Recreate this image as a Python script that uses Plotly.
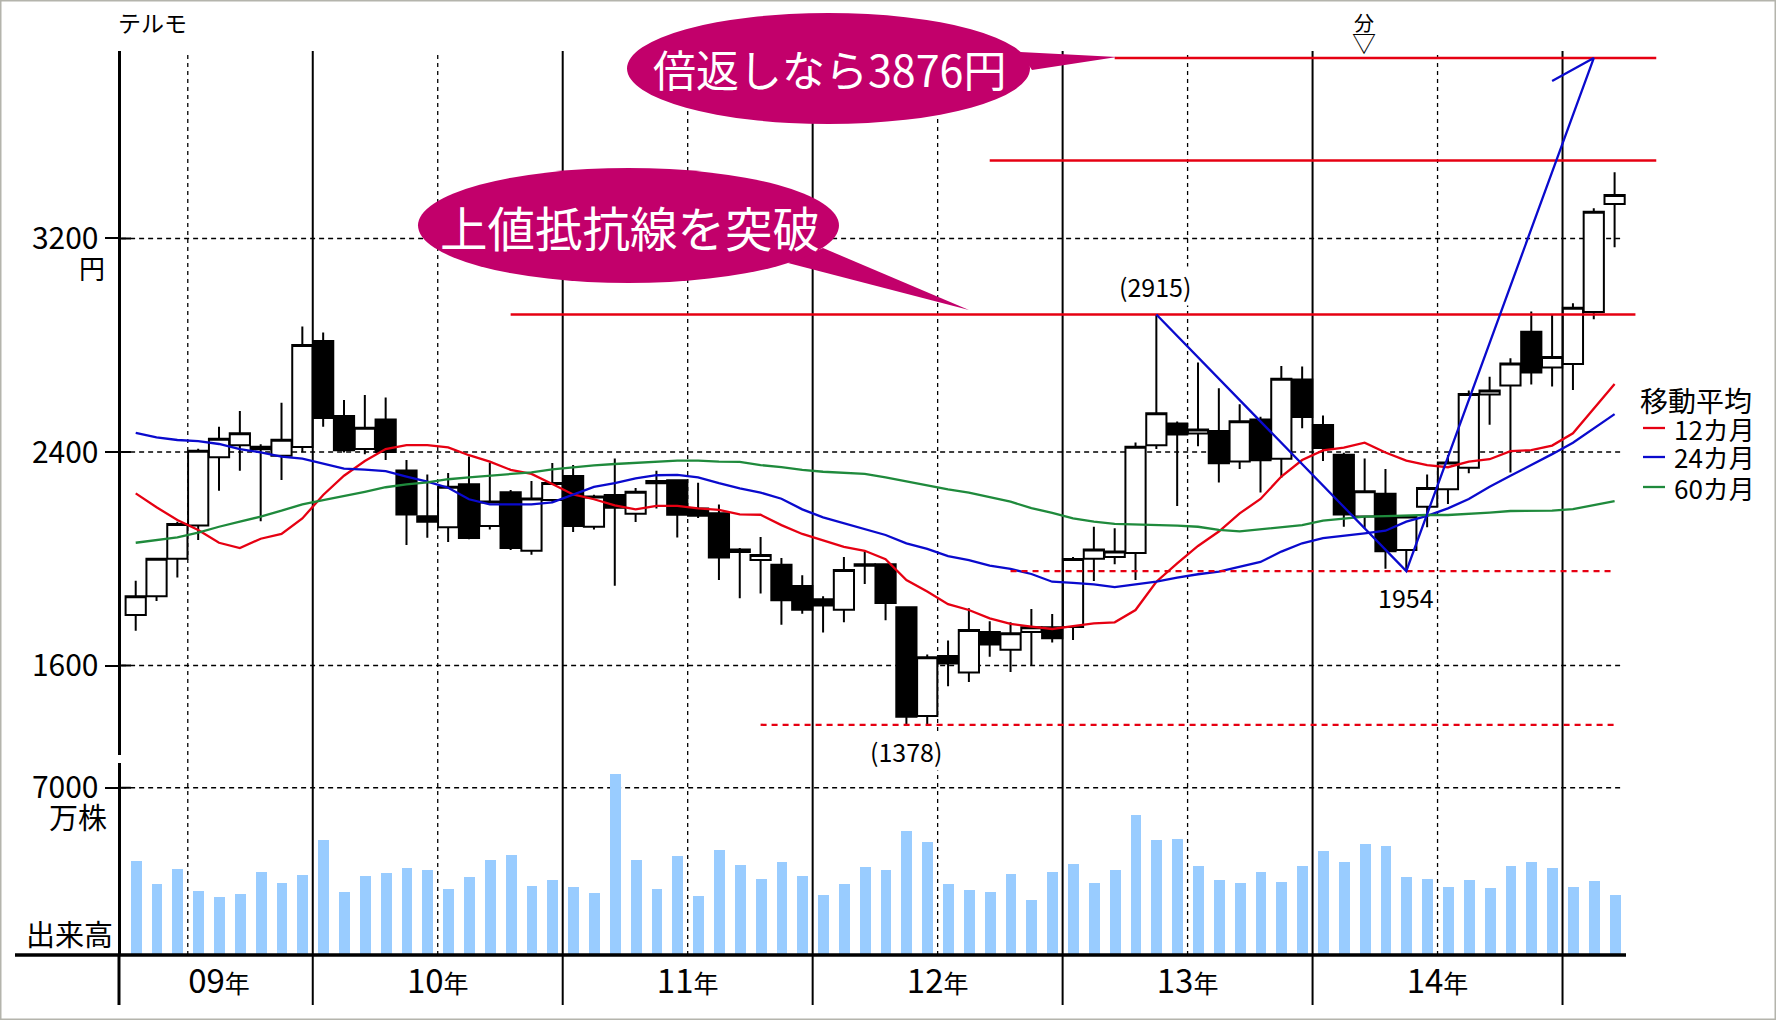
import plotly.graph_objects as go

W, H = 1776, 1020
JP = "Noto Sans CJK JP"

months = list(range(72))
open_ = [1789,1860,2000,2125,2380,2425,2420,2386,2419,2816,
         2535,2411,2522,2331,2159,2118,2279,2123,2249,2030,
         2220,2310,2120,2239,2169,2291,2294,2188,2171,2035,
         1995,1978,1898,1848,1809,1979,1979,1818,1411,1636,
         1574,1726,1659,1726,1743,1744,2000,2007,2022,2425,
         2507,2469,2479,2364,2522,2375,2672,2501,2390,2158,
         2244,2033,2195,2260,2341,2615,2649,2851,2717,2730,
         2925,3329]
close = [1860,2000,2130,2405,2450,2470,2410,2446,2801,2527,
         2407,2491,2400,2166,2139,2270,2078,2215,2040,2226,
         2284,2123,2233,2191,2251,2283,2165,2161,2005,2025,
         2014,1845,1809,1825,1958,1974,1834,1408,1631,1608,
         1733,1679,1721,1743,1702,1999,2035,2027,2420,2545,
         2466,2484,2358,2515,2369,2674,2531,2415,2166,2253,
         2028,2158,2265,2361,2617,2630,2732,2698,2756,2940,
         3300,3363]
high = [1918,2000,2139,2412,2495,2554,2429,2585,2870,2848,
        2595,2614,2604,2370,2316,2321,2383,2360,2258,2291,
        2359,2351,2240,2376,2265,2330,2298,2285,2203,2040,
        2082,2003,1938,1860,2007,2027,1983,1820,1641,1694,
        1815,1766,1762,1812,1793,2007,2120,2114,2436,2915,
        2514,2735,2639,2579,2532,2722,2720,2537,2397,2376,
        2336,2164,2316,2389,2630,2682,2751,2926,2913,2957,
        3313,3448]
low = [1730,1842,1930,2070,2255,2330,2141,2295,2399,2495,
       2398,2392,2370,2052,2079,2063,2073,2110,2033,2015,
       2214,2100,2110,1899,2138,2188,2080,2153,1920,1852,
       1870,1753,1794,1724,1762,1905,1770,1375,1378,1522,
       1538,1633,1576,1602,1686,1696,1917,1979,1920,2411,
       2198,2422,2286,2336,2248,2304,2489,2366,2120,2114,
       1963,1954,2118,2205,2320,2502,2323,2653,2645,2632,
       2897,3167]
ma12 = [2245,2193,2145,2108,2060,2040,2075,2093,2151,2239,
        2311,2366,2411,2426,2426,2417,2388,2364,2333,2318,
        2280,2241,2223,2200,2185,2198,2198,2189,2183,2166,
        2165,2126,2093,2068,2045,2030,1998,1920,1877,1830,
        1808,1777,1756,1746,1737,1748,1758,1762,1808,1914,
        1983,2048,2102,2170,2224,2308,2370,2406,2416,2435,
        2398,2368,2351,2343,2364,2373,2403,2407,2424,2470,
        2564,2655]
ma24 = [2472,2455,2445,2441,2430,2411,2399,2383,2375,2356,
        2338,2334,2328,2308,2289,2266,2223,2204,2204,2204,
        2211,2239,2269,2283,2301,2313,2314,2305,2283,2264,
        2248,2225,2185,2155,2133,2113,2089,2058,2037,2010,
        1995,1974,1962,1943,1914,1910,1904,1894,1904,1914,
        1929,1942,1952,1970,1988,2027,2058,2077,2085,2095,
        2105,2139,2161,2189,2224,2270,2311,2350,2392,2435,
        2489,2542]
ma60 = [2060,2070,2080,2098,2120,2139,2158,2180,2204,2220,
        2235,2251,2268,2279,2286,2298,2305,2311,2318,2324,
        2335,2343,2350,2355,2359,2364,2368,2368,2364,2363,
        2351,2343,2333,2326,2321,2318,2305,2290,2275,2260,
        2248,2230,2214,2190,2172,2151,2139,2131,2129,2126,
        2124,2120,2108,2103,2110,2119,2126,2143,2150,2158,
        2160,2163,2164,2164,2168,2173,2179,2180,2180,2186,
        2201,2216]
volume = [3931,2955,3597,2677,2412,2551,3471,2997,3346,4809,
          2621,3290,3415,3624,3555,2746,3248,3959,4168,2886,
          3137,2844,2593,7555,3973,2760,4126,2453,4377,3764,
          3164,3875,3290,2495,2969,3680,3555,5172,4712,2969,
          2704,2649,3373,2286,3457,3806,3011,3555,5841,4809,
          4851,3708,3137,2997,3457,3053,3722,4335,3889,4642,
          4558,3262,3178,2844,3123,2788,3708,3875,3638,2844,
          3095,2509]

price_ticks = [1600, 2400, 3200]
volume_ticks = [7000]
year_pos = [4, 14.5, 26.5, 38.5, 50.5, 62.5]
year_names = ["09", "10", "11", "12", "13", "14"]
year_lines = [8.5, 20.5, 32.5, 44.5, 56.5, 68.5]
mid_lines = [2.5, 14.5, 26.5, 38.5, 50.5, 62.5]

wave_x = [49, 61, 70, 68]
wave_y = [2915, 1954, 3876, 3790]
res_levels = [2915, 3492, 3876]
res_from = [18, 41, 47]
res_to = [72, 73, 73]
sup_levels = [1378, 1954]
sup_from = [30, 42]
sup_to = [71, 71]

RED, BLUE, GREEN = "#e60012", "#0a0acd", "#1f8a3c"
MAGENTA = "#c2006b"
ma_series = [("12カ月", ma12, RED), ("24カ月", ma24, BLUE), ("60カ月", ma60, GREEN)]

def fx(px): return px / W
def fy(py): return 1 - py / H

fig = go.Figure()
fig.add_trace(go.Bar(x=months, y=volume, width=0.52, marker=dict(color="#99ccff", line_width=0),
                     xaxis="x", yaxis="y2", showlegend=False, hoverinfo="skip"))
fig.add_trace(go.Candlestick(x=months, open=open_, high=high, low=low, close=close,
                             whiskerwidth=0, showlegend=False, hoverinfo="skip",
                             increasing=dict(line=dict(color="black", width=2), fillcolor="white"),
                             decreasing=dict(line=dict(color="black", width=2), fillcolor="black")))
for name, vals, col in ma_series:
    fig.add_trace(go.Scatter(x=months, y=vals, mode="lines", name=name, showlegend=False,
                             line=dict(color=col, width=2.3), hoverinfo="skip"))
for lv, a, b in zip(res_levels, res_from, res_to):
    fig.add_trace(go.Scatter(x=[a, b], y=[lv, lv], mode="lines", showlegend=False, hoverinfo="skip",
                             line=dict(color=RED, width=2.5)))
for lv, a, b in zip(sup_levels, sup_from, sup_to):
    fig.add_trace(go.Scatter(x=[a, b], y=[lv, lv], mode="lines", showlegend=False, hoverinfo="skip",
                             line=dict(color=RED, width=2.3, dash="6px,5px")))
fig.add_trace(go.Scatter(x=wave_x, y=wave_y, mode="lines", showlegend=False, hoverinfo="skip",
                         line=dict(color=BLUE, width=2.3)))

shapes = []
shapes.append(dict(type="rect", xref="paper", yref="paper", x0=0, x1=1, y0=0, y1=1,
                   line=dict(color="#b4b4ac", width=3), layer="below"))
for ref, ticks in (("y", price_ticks), ("y2", volume_ticks)):
    for v in ticks:
        shapes.append(dict(type="line", xref="x", yref=ref, x0=-0.7, x1=71.4, y0=v, y1=v, layer="below",
                           line=dict(color="black", width=1.5, dash="5px,4px")))
        shapes.append(dict(type="line", xref="x", yref=ref, x0=-0.7, x1=-0.23, y0=v, y1=v, layer="below",
                           line=dict(color="black", width=2)))
for v in mid_lines:
    shapes.append(dict(type="line", xref="x", yref="paper", x0=v, x1=v, y0=fy(955), y1=fy(51), layer="below",
                       line=dict(color="black", width=1.3, dash="4px,4px")))
for v in year_lines:
    shapes.append(dict(type="line", xref="x", yref="paper", x0=v, x1=v, y0=fy(1005), y1=fy(51), layer="below",
                       line=dict(color="black", width=2)))
shapes.append(dict(type="line", xref="paper", yref="paper", x0=fx(119), x1=fx(119), y0=fy(1005), y1=fy(955),
                   line=dict(color="black", width=3)))
shapes.append(dict(type="line", xref="paper", yref="paper", x0=fx(15), x1=fx(1626), y0=fy(955), y1=fy(955),
                   line=dict(color="black", width=3.5)))
def path(pts):
    return "M " + " L ".join(f"{fx(a):.5f},{fy(b):.5f}" for a, b in pts) + " Z"
shapes.append(dict(type="path", xref="paper", yref="paper", path=path([(1020, 52), (1117, 57), (1032, 70)]),
                   fillcolor=MAGENTA, line_width=0))
shapes.append(dict(type="circle", xref="paper", yref="paper", x0=fx(627), x1=fx(1030), y0=fy(124), y1=fy(13),
                   fillcolor=MAGENTA, line_width=0))
shapes.append(dict(type="path", xref="paper", yref="paper", path=path([(823, 248), (969, 310), (788, 263)]),
                   fillcolor=MAGENTA, line_width=0))
shapes.append(dict(type="circle", xref="paper", yref="paper", x0=fx(418), x1=fx(839), y0=fy(283), y1=fy(168),
                   fillcolor=MAGENTA, line_width=0))

def note(text, px, py, size, color="black", anchor="center", **kw):
    return dict(text=text, x=fx(px), y=fy(py), xref="paper", yref="paper", showarrow=False,
                xanchor=anchor, yanchor="middle", font=dict(family=JP, size=size, color=color), **kw)

annotations = [
    note("倍返しなら3876円", 829, 68, 43, "white"),
    note("上値抵抗線を突破", 630, 226, 47.5, "white"),
    note("テルモ", 152, 22, 23),
    note("分", 1364, 22, 20),
    note("▽", 1364, 42, 24),
    note("円", 92, 268, 26),
    note("万株", 78, 816, 29),
    note("出来高", 69, 933, 29),
    note("(2915)", 1155, 286, 25, bgcolor="white"),
    note("(1378)", 906, 751, 25, bgcolor="white"),
    note("1954", 1406, 597, 25, bgcolor="white"),
    note("移動平均", 1638, 400, 28, anchor="left"),
]
for (name, vals, col), ypx in zip(ma_series, [428, 457, 487]):
    annotations.append(note(name, 1672, ypx, 26, anchor="left"))
    shapes.append(dict(type="line", xref="paper", yref="paper", x0=fx(1643), x1=fx(1665), y0=fy(ypx), y1=fy(ypx),
                       line=dict(color=col, width=2.3)))

fig.update_layout(
    width=W, height=H, autosize=False,
    margin=dict(l=0, r=0, t=0, b=0),
    paper_bgcolor="white", plot_bgcolor="rgba(0,0,0,0)",
    font=dict(family=JP, color="black"),
    boxgap=0.03, boxgroupgap=0,
    bargap=0,
    showlegend=False,
    shapes=shapes, annotations=annotations,
    xaxis=dict(domain=[fx(120.5), fx(1700)], range=[-0.73, 75.1], anchor="y2",
               tickmode="array", tickvals=year_pos,
               ticktext=[f'{n}<span style="font-size:25px">年</span>' for n in year_names],
               tickfont=dict(family=JP, size=33), ticks="", showgrid=False, zeroline=False, showline=False,
               ticklabelstandoff=4, rangeslider=dict(visible=False)),
    yaxis=dict(domain=[fy(755), fy(51)], range=[1264.8, 3902.4], anchor="x",
               tickmode="array", tickvals=price_ticks, tickfont=dict(family=JP, size=30),
               ticks="outside", ticklen=13, tickwidth=2, tickcolor="black",
               showgrid=False, zeroline=False, showline=True, linecolor="black", linewidth=3),
    yaxis2=dict(domain=[fy(955), fy(763)], range=[0, 8033], anchor="x",
                tickmode="array", tickvals=volume_ticks, tickfont=dict(family=JP, size=30),
                ticks="outside", ticklen=13, tickwidth=2, tickcolor="black",
                showgrid=False, zeroline=False, showline=True, linecolor="black", linewidth=3),
)

fig.write_html("out.html", config=dict(displayModeBar=False),
               post_script="document.body.style.margin='0';")
